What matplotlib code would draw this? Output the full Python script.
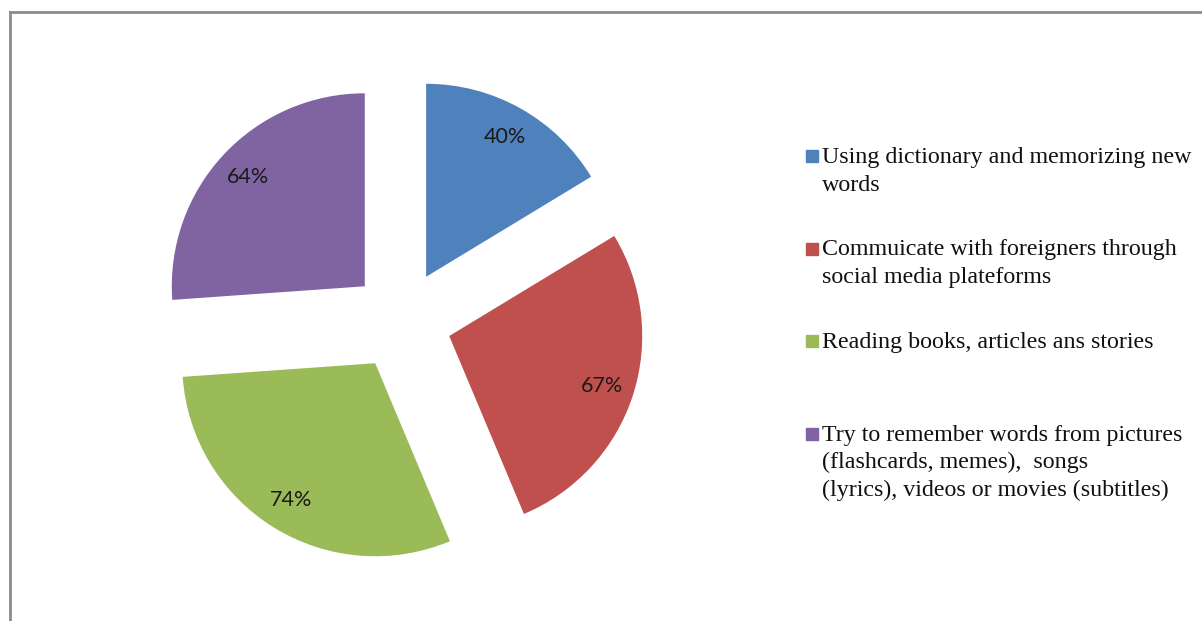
import matplotlib.pyplot as plt
from matplotlib.lines import Line2D
from matplotlib.patches import Rectangle

# survey answers: share of respondents using each strategy
strategies = [
    "Using dictionary and memorizing new\nwords",
    "Commuicate with foreigners through\nsocial media plateforms",
    "Reading books, articles ans stories",
    "Try to remember words from pictures\n(flashcards, memes),  songs\n(lyrics), videos or movies (subtitles)",
]
percent = [40, 67, 74, 64]
colors = ["#4F81BD", "#C0504D", "#9BBB59", "#8064A2"]

W, H = 1202, 621
fig = plt.figure(figsize=(W / 100, H / 100), dpi=100)

# square axes around the pie centre (pixel units)
cx, cy, half, R = 401.5, 320.5, 300, 193
ax = fig.add_axes([(cx - half) / W, (H - cy - half) / H, 2 * half / W, 2 * half / H])

wedges, texts, autotexts = ax.pie(
    percent, colors=colors, startangle=90, counterclock=False,
    explode=[0.26] * len(percent), radius=1,
    autopct=lambda p: "", pctdistance=0.83,
    wedgeprops=dict(linewidth=0))
for t, v in zip(autotexts, percent):
    t.set_text(f"{v}%")
    t.set_fontsize(15.5)
    t.set_family("Lato")
    t.set_color("#1a1a1a")
lim = half / R
ax.set_xlim(-lim, lim)
ax.set_ylim(-lim, lim)
ax.axis("off")

# legend drawn by hand so each marker sits on the first text line
lx, base0, step = 822, 163, 92.5
for i, (lab, c) in enumerate(zip(strategies, colors)):
    base = base0 + i * step
    fig.text(lx / W, 1 - (base - 16) / H, lab, ha="left", va="top",
             family="Liberation Serif", fontsize=17.3, linespacing=1.42,
             color="#111111")
    fig.patches.append(Rectangle(((lx - 16) / W, 1 - (base - 1) / H),
                                 12 / W, 12 / H, transform=fig.transFigure,
                                 color=c))

# chart area frame (top and left edges)
fig.lines.append(Line2D([10 / W, 1], [1 - 12 / H] * 2, transform=fig.transFigure,
                        color="#8c8c8c", lw=2))
fig.lines.append(Line2D([10 / W] * 2, [0, 1 - 12 / H], transform=fig.transFigure,
                        color="#8c8c8c", lw=2))

fig.savefig("out.png", dpi=100, facecolor="white")
